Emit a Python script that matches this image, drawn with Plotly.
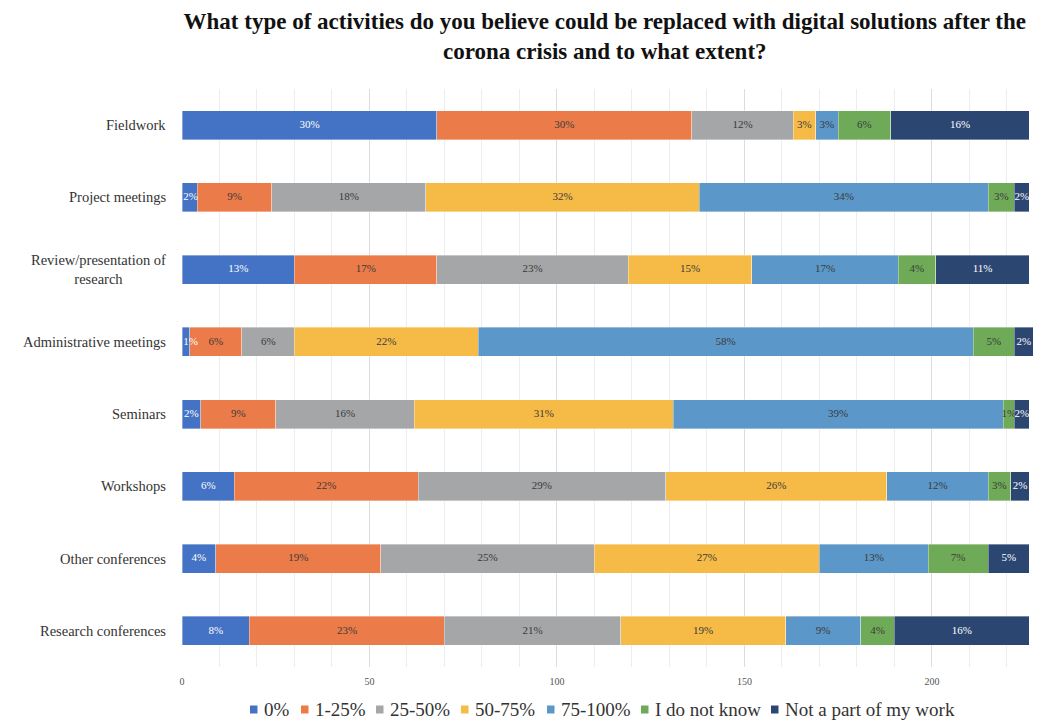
import plotly.graph_objects as go

# Activities, listed top to bottom
activities = [
    "Fieldwork",
    "Project meetings",
    "Review/presentation of<br>research",
    "Administrative meetings",
    "Seminars",
    "Workshops",
    "Other conferences",
    "Research conferences",
]

# Answer categories (extent of possible digital replacement)
answers = ["0%", "1-25%", "25-50%", "50-75%", "75-100%", "I do not know", "Not a part of my work"]

# Number of respondents per answer, one list per answer, in activity order
n_0 = [68, 4, 30, 2, 5, 14, 9, 18]
n_1_25 = [68, 20, 38, 14, 20, 49, 44, 52]
n_25_50 = [27, 41, 51, 14, 37, 66, 57, 47]
n_50_75 = [6, 73, 33, 49, 69, 59, 60, 44]
n_75_100 = [6, 77, 39, 132, 88, 27, 29, 20]
n_unknown = [14, 7, 10, 11, 3, 6, 16, 9]
n_not_part = [37, 4, 25, 5, 4, 5, 11, 36]

series = [n_0, n_1_25, n_25_50, n_50_75, n_75_100, n_unknown, n_not_part]

colors = ["#4472C4", "#EB7C49", "#A5A6A8", "#F6BB47", "#5B97C8", "#6FAA58", "#2C4672"]
label_colors = ["#FFFFFF", "#3A3A3A", "#3A3A3A", "#3A3A3A", "#3A3A3A", "#3A3A3A", "#FFFFFF"]

totals = [sum(col) for col in zip(*series)]

# Plot-area geometry (pixels)
W, H = 1041, 722
ML, MR, MT, MB = 182, 6, 89, 55
PW = W - ML - MR
X_MAX = 227.5
MIN_LABEL_X = 2.3  # keep labels of tiny first segments inside the plot area

fig = go.Figure()

# Stacked bars
for name, vals, col in zip(answers, series, colors):
    fig.add_trace(go.Bar(
        name=name,
        y=activities,
        x=vals,
        orientation="h",
        marker=dict(color=col, line=dict(width=0.6, color="rgba(255,255,255,0.6)")),
        hoverinfo="x+y+name",
        showlegend=False,
    ))

# Percentage labels drawn over all bars, centred in each segment
start = [0] * len(activities)
for vals, tcol in zip(series, label_colors):
    mids = [max(s + v / 2, MIN_LABEL_X) for s, v in zip(start, vals)]
    pct = [f"{round(100 * v / t)}%" for v, t in zip(vals, totals)]
    fig.add_trace(go.Scatter(
        x=mids,
        y=activities,
        mode="text",
        text=pct,
        textposition="middle center",
        textfont=dict(family="Liberation Serif", size=11, color=tcol),
        showlegend=False,
        hoverinfo="skip",
        cliponaxis=False,
    ))
    start = [s + v for s, v in zip(start, vals)]

annotations = []
shapes = []

# Category labels, right-aligned to the plot, multi-line text centred
for act in activities:
    annotations.append(dict(
        xref="paper", x=0, xanchor="right", xshift=-14,
        yref="y", y=act, yanchor="middle",
        text=act, showarrow=False, align="center",
        font=dict(family="Liberation Serif", size=14.5, color="#333333"),
    ))

# Legend row: small square swatch followed by the answer text
legend_text_px = [262, 313, 388, 473, 559, 653, 783]
legend_y_px = 709
for name, col, tx in zip(answers, colors, legend_text_px):
    px = (tx - ML) / PW
    annotations.append(dict(
        xref="paper", x=px, xanchor="left",
        yref="paper", y=(H - MB - legend_y_px) / (H - MT - MB), yanchor="middle",
        text=name, showarrow=False,
        font=dict(family="Liberation Serif", size=19, color="#333333"),
    ))
    y0 = (H - MB - (legend_y_px + 4.5)) / (H - MT - MB)
    y1 = (H - MB - (legend_y_px - 3.5)) / (H - MT - MB)
    shapes.append(dict(
        type="rect", xref="paper", yref="paper",
        x0=(tx - 12 - ML) / PW, x1=(tx - 4.5 - ML) / PW,
        y0=y0, y1=y1,
        fillcolor=col, line=dict(width=0),
    ))

fig.update_layout(
    barmode="stack",
    bargap=0.6,
    width=W,
    height=H,
    paper_bgcolor="white",
    plot_bgcolor="white",
    margin=dict(l=ML, r=MR, t=MT, b=MB, autoexpand=False),
    font=dict(family="Liberation Serif", color="#333333"),
    title=dict(
        text="What type of activities do you believe could be replaced with digital solutions after the<br>corona crisis and to what extent?",
        x=0.581, xanchor="center",
        y=0.96, yanchor="top",
        font=dict(family="Liberation Serif", size=23, color="#111111", weight="bold"),
    ),
    showlegend=False,
    annotations=annotations,
    shapes=shapes,
)

fig.update_xaxes(
    range=[0, X_MAX],
    tickmode="linear", tick0=0, dtick=50,
    showgrid=True, gridcolor="#DCDCDC", gridwidth=1,
    minor=dict(dtick=10, showgrid=True, gridcolor="#EDEDED", gridwidth=1),
    zeroline=False,
    showline=False,
    tickfont=dict(family="Liberation Serif", size=10, color="#555555"),
    ticks="",
    ticklabelstandoff=7,
    fixedrange=True,
)
fig.update_yaxes(
    autorange="reversed",
    showgrid=False,
    showline=False,
    ticks="",
    showticklabels=False,
    fixedrange=True,
)

fig.write_html("out.html")
